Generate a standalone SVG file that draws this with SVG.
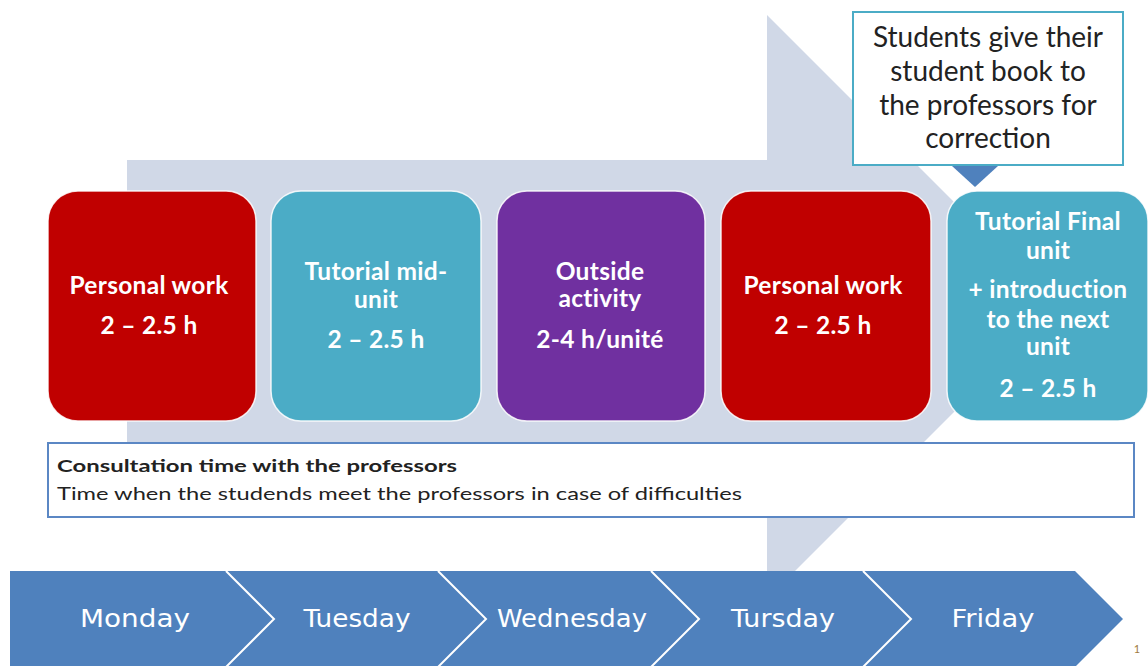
<svg xmlns="http://www.w3.org/2000/svg" width="1148" height="666" viewBox="0 0 1148 666">
<style>
.box{stroke:#ffffff;stroke-width:1.5;stroke-opacity:0.85}
.red{fill:#c00000}
.teal{fill:#4bacc6}
.purple{fill:#7030a0}
.bt{font-family:Lato,"Liberation Sans",sans-serif;font-weight:bold;font-size:24.5px;letter-spacing:0.3px;fill:#ffffff;text-anchor:middle}
.ct{font-family:Lato,"Liberation Sans",sans-serif;font-size:28px;fill:#222222;text-anchor:middle}
.kt{font-family:Lato,"Liberation Sans",sans-serif;font-size:17px;fill:#222222}
.day{font-family:"DejaVu Sans","Liberation Sans",sans-serif;font-size:25px;fill:#ffffff;text-anchor:middle}
.sep{fill:none;stroke:#ffffff;stroke-width:2}
</style>
<rect width="1148" height="666" fill="#ffffff"/>
<g id="background-arrow">
<polygon points="127,160 767,160 767,15 1059,307 767,599 767,454 127,454" fill="#d0d8e7"/>
</g>
<g id="callout">
<rect x="853" y="12" width="270" height="153" fill="#ffffff" stroke="#4bacc6" stroke-width="2"/>
<text class="ct" x="988" y="47">Students give their</text>
<text class="ct" x="988" y="81">student book to</text>
<text class="ct" x="988" y="115">the professors for</text>
<text class="ct" x="988" y="148">correction</text>
</g>
<g id="connectors">
<polygon points="952,166 998,166 975,187" fill="#4f81bd"/>
</g>
<g id="box1">
<rect class="box red" x="48" y="191" width="208" height="230" rx="30"/>
<text class="bt" x="149" y="294">Personal work</text>
<text class="bt" x="149" y="334">2 – 2.5 h</text>
</g>
<g id="box2">
<rect class="box teal" x="271" y="191" width="210" height="230" rx="30"/>
<text class="bt" x="376" y="280">Tutorial mid-</text>
<text class="bt" x="376" y="308">unit</text>
<text class="bt" x="376" y="348">2 – 2.5 h</text>
</g>
<g id="box3">
<rect class="box purple" x="497" y="191" width="208" height="230" rx="30"/>
<text class="bt" x="600" y="280">Outside</text>
<text class="bt" x="600" y="307">activity</text>
<text class="bt" x="600" y="348">2-4 h/unité</text>
</g>
<g id="box4">
<rect class="box red" x="721" y="191" width="210" height="230" rx="30"/>
<text class="bt" x="823" y="294">Personal work</text>
<text class="bt" x="823" y="334">2 – 2.5 h</text>
</g>
<g id="box5">
<rect class="box teal" x="947" y="191" width="201" height="230" rx="30"/>
<text class="bt" x="1048" y="230">Tutorial Final</text>
<text class="bt" x="1048" y="259">unit</text>
<text class="bt" x="1048" y="298">+ introduction</text>
<text class="bt" x="1048" y="328">to the next</text>
<text class="bt" x="1048" y="355">unit</text>
<text class="bt" x="1048" y="397">2 – 2.5 h</text>
</g>
<g id="consultation">
<rect x="48" y="443" width="1086" height="74" fill="#ffffff" stroke="#5b87c4" stroke-width="2"/>
<text class="kt" x="57" y="472" font-weight="bold" textLength="400" lengthAdjust="spacingAndGlyphs">Consultation  time with the professors</text>
<text class="kt" x="57" y="500" textLength="685" lengthAdjust="spacingAndGlyphs">Time when the studends meet the professors in case of difficulties</text>
</g>
<g id="days">
<polygon points="10,571 1075,571 1123,619 1075,667 10,667" fill="#4f81bd"/>
<polyline class="sep" points="226,571 274,619 226,667"/>
<polyline class="sep" points="438,571 486,619 438,667"/>
<polyline class="sep" points="651,571 699,619 651,667"/>
<polyline class="sep" points="863,571 911,619 863,667"/>
<text class="day" x="135" y="627" textLength="110" lengthAdjust="spacingAndGlyphs">Monday</text>
<text class="day" x="357" y="627" textLength="107" lengthAdjust="spacingAndGlyphs">Tuesday</text>
<text class="day" x="572" y="627" textLength="150" lengthAdjust="spacingAndGlyphs">Wednesday</text>
<text class="day" x="783" y="627" textLength="104" lengthAdjust="spacingAndGlyphs">Tursday</text>
<text class="day" x="993" y="627" textLength="83" lengthAdjust="spacingAndGlyphs">Friday</text>
</g>
<text x="1137" y="653" font-family="Lato,'Liberation Sans',sans-serif" font-size="11" fill="#a07a40" text-anchor="middle">1</text>
</svg>
